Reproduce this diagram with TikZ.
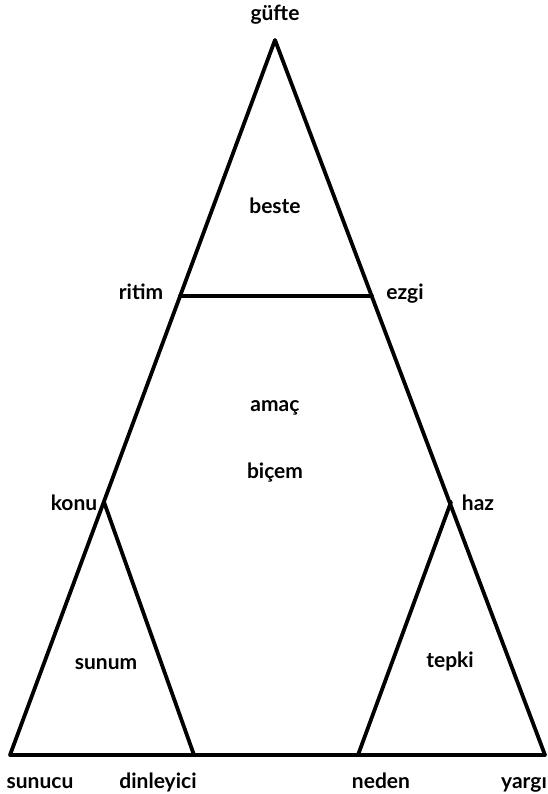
\documentclass[tikz,border=0pt]{standalone}
\usepackage{fontspec}
\setmainfont{Lato}
\usetikzlibrary{positioning}

\tikzset{
  edge/.style={line width=3.8pt, line cap=round, line join=round},
  lbl/.style={font=\fontsize{21}{24}\selectfont\bfseries, inner sep=1pt, anchor=base}
}

\begin{document}
\begin{tikzpicture}[x=1pt, y=-1pt]
  \useasboundingbox (0,0) rectangle (547,794);

  % corners
  \coordinate (top) at (275,40);
  \coordinate (bl) at (10,755);
  \coordinate (br) at (545,755);
  \coordinate (rl) at (180,296);
  \coordinate (rr) at (372,296);
  \coordinate (kv) at (104,502);
  \coordinate (hv) at (451,502);
  \coordinate (db) at (194,755);
  \coordinate (nb) at (358,755);

  % big triangle
  \draw[edge] (bl) -- (top) -- (br) -- cycle;
  \draw[edge] (rl) -- (rr);

  % small triangles
  \draw[edge] (kv) -- (db);
  \draw[edge] (hv) -- (nb);

  % corner labels
  \node[lbl] (guefte) at (275,21) {güfte};
  \node[lbl] (ritim) at (141,299) {ritim};
  \node[lbl] (ezgi) at (405,299) {ezgi};
  \node[lbl] (konu) at (74,510) {konu};
  \node[lbl] (haz) at (478,510) {haz};
  \node[lbl] (sunucu) at (40,788) {sunucu};
  \node[lbl] (dinleyici) at (158,788) {dinleyici};
  \node[lbl] (neden) at (381,788) {neden};
  \node[lbl] (yargi) at (524,788) {yargı};

  % inner labels
  \node[lbl] (beste) at (275,214) {beste};
  \node[lbl] (amac) at (275,411) {amaç};
  \node[lbl] (bicem) at (275,478) {biçem};
  \node[lbl] (sunum) at (106,669) {sunum};
  \node[lbl] (tepki) at (450,667) {tepki};
\end{tikzpicture}
\end{document}
